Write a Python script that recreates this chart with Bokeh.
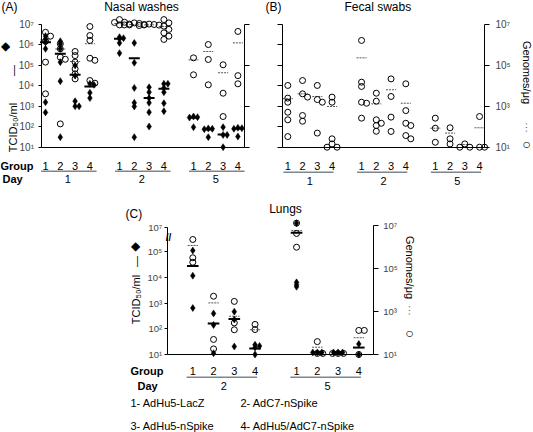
import numpy as np
from bokeh.plotting import figure
from bokeh.models import Range1d, LogAxis, LinearAxis, FixedTicker, Label, BoxAnnotation
from bokeh.layouts import column, row
from bokeh.embed import file_html
from bokeh.resources import INLINE

FONT = "Liberation Sans"

# ---------------- data (log10 values) ----------------
groups = ["1", "2", "3", "4"]
nasal_days = ["1", "2", "5"]
lung_days = ["2", "5"]
legend_entries = ["1-  AdHu5-LacZ", "2-  AdC7-nSpike", "3-  AdHu5-nSpike", "4-  AdHu5/AdC7-nSpike"]
exp_labels = {1: "10\u00b9", 2: "10\u00b2", 3: "10\u00b3", 4: "10\u2074", 5: "10\u2075", 6: "10\u2076", 7: "10\u2077"}

# (A) nasal washes, log10 TCID50/ml (filled diamonds) [day][group]
nasal_titer = [
    [[6.43, 6.28, 6.13, 5.81, 3.2, 2.7], [6.18, 6.06, 5.81, 5.16, 4.23, 1.49],
     [5.0, 4.5, 3.25, 3.0, 3.0], [4.1, 4.05, 3.66, 3.4]],
    [[6.38, 6.33, 6.3, 6.1, 5.6], [6.1, 5.13, 3.9, 3.17, 2.99, 1.49],
     [3.93, 3.69, 3.4, 3.17, 2.71, 2.01], [4.1, 4.1, 3.9, 3.69, 3.15, 2.76]],
    [[2.5, 2.47, 2.45, 1.98], [1.92, 1.9, 1.88, 1.49], [1.98, 1.6, 1.6, 1.0], [1.95, 1.93, 1.9, 1.52]],
]
# (A) nasal washes, log10 genomes/ug (open circles)
nasal_genome = [
    [[6.62, 6.43, 6.18, 5.16, 3.61], [6.06, 5.81, 5.4, 5.3, 2.14],
     [5.68, 5.48, 5.16, 4.83, 4.59, 4.34], [6.9, 6.46, 6.22, 5.35, 5.25, 4.26, 4.13]],
    [[7.24, 7.11, 7.1, 6.98, 6.98], [7.08, 7.05, 7.02, 7.0, 6.98],
     [7.02, 7.0, 6.98, 6.97, 6.95], [7.24, 7.08, 6.92, 6.76, 6.59, 6.43, 6.27]],
    [[5.37, 4.54], [6.02, 5.29, 4.05], [5.03, 3.64, 2.5], [6.66, 4.5, 4.1]],
]
nasal_titer_mean = [[6.13, 5.57, 4.54, 3.97], [6.3, 5.35, 3.4, 3.86], [2.44, 1.87, 1.62, 1.9]]
nasal_genome_mean = [[6.25, 5.8, 5.19, 6.06], [7.05, 7.0, 6.98, 6.9], [5.27, 5.68, 4.64, 6.1]]

# (B) fecal swabs, log10 genomes/ug
fecal_genome = [
    [[4.02, 3.4, 3.2, 2.71, 2.34, 1.52], [4.26, 3.61, 3.45, 2.55, 2.27],
     [4.02, 3.33, 3.2, 1.69], [3.45, 3.2, 1.41, 1.16, 1.0, 1.0]],
    [[6.22, 4.18, 3.97, 3.2, 3.15, 2.42], [3.64, 3.25, 2.34, 2.17, 2.06, 1.78],
     [4.34, 3.48, 2.47, 1.77], [4.1, 2.79, 2.17, 2.06, 1.57, 1.41]],
    [[2.42, 1.93, 1.24], [1.95, 1.41, 1.16], [1.16, 1.0, 1.0], [2.5, 1.0, 1.0]],
]
fecal_genome_mean = [[3.37, 3.61, 3.48, 2.99], [5.37, 3.12, 3.81, 3.15], [1.93, 1.69, 1.13, 1.95]]

# (C) lungs
lung_titer = [
    [[5.11, 4.07, 2.81], [2.6, 2.15, 1.05], [2.67, 2.36, 1.31], [1.38, 1.33, 1.27, 1.0]],
    [[7.4, 3.81, 3.72, 3.64], [1.08, 1.08, 1.08], [1.08, 1.08, 1.08], [1.41, 1.0]],
]
lung_genome = [
    [[6.35, 5.5, 5.29], [3.71, 1.7, 1.26], [3.47, 2.47, 2.15], [2.4, 2.16]],
    [[7.11, 6.63, 5.99], [1.6, 1.05, 1.05], [1.05, 1.05, 1.05], [2.12, 2.12, 1.0]],
]
lung_titer_mean = [[4.45, 2.21, 2.38, 1.23], [6.6, 1.08, 1.08, 1.27]]
lung_genome_mean = [[6.07, 3.4, 2.78, 2.15], [6.77, 1.34, 1.05, 1.78]]

# ---------------- layout helpers ----------------
nasal_pos = [1, 2, 3, 4, 6, 7, 8, 9, 11, 12, 13, 14]
lung_pos = [1, 2, 3, 4, 6, 7, 8, 9]


def dodge(screen_vals, tol, step):
    offs = np.zeros(len(screen_vals))
    placed = []
    pattern = [0, 1, -1, 2, -2, 3, -3]
    for i in np.argsort(-np.asarray(screen_vals), kind="stable"):
        used = {k for (v, k) in placed if abs(v - screen_vals[i]) < tol}
        k = next(k for k in pattern if k not in used)
        offs[i] = k * step
        placed.append((screen_vals[i], k))
    return offs


def collect(values, positions, to_plot, to_px, px_per_x, tol_px, step_px):
    xs, ys, k = [], [], 0
    for day_vals in values:
        for vals in day_vals:
            v = np.asarray(vals, float)
            xs.extend(positions[k] + dodge(to_px(v), tol_px, step_px / px_per_x))
            ys.extend(to_plot(v))
            k += 1
    return xs, ys


def mean_lines(p, means, positions, to_plot, half, dotted):
    flat = [m for day in means for m in day]
    y = to_plot(np.asarray(flat, float))
    x = np.asarray(positions[:len(flat)], float)
    if dotted:
        p.segment(x - half, y, x + half, y, line_color="#555555", line_width=1, line_dash="2 1")
    else:
        p.segment(x - half, y, x + half, y, line_color="black", line_width=2)


class Panel:
    """a figure whose frame fills its canvas; page pixel anchors give the ranges"""

    def __init__(self, left, top, width, height, xa, ya, log):
        self.left, self.top, self.w, self.h = left, top, width, height
        (xpx, xval, xppu), (ypx, yval, yppu) = xa, ya
        self.xa, self.ya = xa, ya
        x0 = xval - (xpx - left) / xppu
        x1 = xval + (left + width - xpx) / xppu
        y1 = yval + (ypx - top) / yppu
        y0 = yval - (top + height - ypx) / yppu
        yr = Range1d(10 ** y0, 10 ** y1) if log else Range1d(y0, y1)
        self.p = figure(width=width, height=height, x_range=Range1d(x0, x1), y_range=yr,
                        y_axis_type="log" if log else "linear", toolbar_location=None,
                        output_backend="svg", min_border=0)
        p = self.p
        p.outline_line_color = None
        p.grid.visible = False
        p.background_fill_color = "white"
        p.border_fill_color = "white"

    def xdata(self, px):
        xpx, xval, xppu = self.xa
        return xval + (px - xpx) / xppu

    def lab(self, text, px=None, py=0, x=None, size="11px", align="left", angle=0.0, bold=False,
            color="black"):
        kw = dict(x=px - self.left, x_units="screen") if x is None else dict(x=x, x_units="data")
        self.p.add_layout(Label(y=self.top + self.h - py, y_units="screen", text=text, text_font=FONT,
                                text_font_size=size, text_align=align, text_baseline="middle",
                                angle=angle, text_color=color,
                                text_font_style="bold" if bold else "normal", **kw))

    def underline(self, x0, x1, py):
        fb = self.top + self.h
        self.p.add_layout(BoxAnnotation(left=x0, right=x1, top=fb - py, bottom=fb - py - 1.5,
                                        top_units="screen", bottom_units="screen",
                                        fill_color="#7d8590", fill_alpha=1, line_color=None))

    def day_labels(self, positions, days, y_grp, y_line, y_day, x_text, lo, hi):
        for i, x in enumerate(positions):
            self.lab(groups[i % 4], py=y_grp, x=x, align="center")
        for d, day in enumerate(days):
            blk = positions[4 * d:4 * d + 4]
            self.underline(blk[0] + lo, blk[-1] + hi, y_line)
            self.lab(day, py=y_day, x=float(np.mean(blk)), align="center")
        if x_text is not None:
            self.lab("Group", px=x_text[0], py=y_grp, bold=True)
            self.lab("Day", px=x_text[1], py=y_day, bold=True)

    def titer_label(self, px, py_text, py_dash, dpx, py_diamond):
        self.lab("TCID\u2085\u2080/ml", px=px, py=py_text, align="center", angle=np.pi / 2)
        self.lab("\u2014", px=px, py=py_dash, align="center", angle=np.pi / 2)
        self.lab("\u25c6", px=dpx, py=py_diamond, size="12px", align="center")

    def genome_label(self, px, py_text, py_dots, py_circle):
        self.lab("Genomes/\u03bcg", px=px, py=py_text, align="center", angle=-np.pi / 2)
        self.lab("\u00b7\u00b7\u00b7", px=px, py=py_dots, align="center", angle=-np.pi / 2, color="#666666")
        self.lab("\u25cb", px=px, py=py_circle, size="14px", align="center")


def style_axis(ax, ticks, labels, tick_out, standoff, bounds, loc, size="10px"):
    ax.ticker = FixedTicker(ticks=ticks, minor_ticks=[])
    ax.major_label_overrides = {t: l for t, l in zip(ticks, labels)}
    ax.major_tick_in = 0
    ax.major_tick_out = tick_out
    ax.minor_tick_line_color = None
    ax.axis_line_color = "black"
    ax.major_tick_line_color = "black"
    ax.major_label_text_font = FONT
    ax.major_label_text_font_size = size
    ax.major_label_standoff = standoff
    ax.bounds = bounds
    ax.fixed_location = loc


def baseline(panel, yloc, xl, xr):
    ax = panel.p.xaxis[0]
    ax.ticker = FixedTicker(ticks=[], minor_ticks=[])
    ax.major_label_text_font_size = "0px"
    ax.major_tick_line_color = None
    ax.minor_tick_line_color = None
    ax.axis_line_color = "black"
    ax.bounds = (xl, xr)
    ax.fixed_location = yloc


DEC = list(range(1, 8))
LOG_TICKS = [10 ** k for k in DEC]
ODD_TICKS = [10 ** k for k in (1, 3, 5, 7)]
pow10 = lambda v: 10 ** v

# ---------------- (A) Nasal washes ----------------
A = Panel(0, 0, 262, 195, (45, 1, 14.8), (24, 7, 20.45), log=True)
pA = A.p
aL, aR = A.xdata(40.5), A.xdata(244)
style_axis(pA.yaxis[0], LOG_TICKS, [exp_labels[k] for k in DEC], 3, 4, (10, 1e7), aL)
rA = LogAxis()
style_axis(rA, ODD_TICKS, [""] * 4, 5, 2, (10, 1e7), aR)
pA.add_layout(rA, "right")
baseline(A, 10, aL, aR)

mean_lines(pA, nasal_genome_mean, nasal_pos, pow10, 0.34, True)
cx, cy = collect(nasal_genome, nasal_pos, pow10, lambda v: v * 20.45, 14.8, 4, 5)
pA.scatter(cx, cy, marker="circle", size=6, fill_color=None, line_color="black", line_width=1)
dx, dy = collect(nasal_titer, nasal_pos, pow10, lambda v: v * 20.45, 14.8, 1.5, 4)
pA.scatter(dx, dy, marker="diamond", size=7, fill_color="black", line_color="black", line_width=0.5)
mean_lines(pA, nasal_titer_mean, nasal_pos, pow10, 0.37, False)

A.lab("(A)", px=1, py=6, size="12px")
A.lab("Nasal washes", px=141, py=6, size="12px", align="center")
A.titer_label(12, 127, 70, 5, 45)
A.day_labels(nasal_pos, nasal_days, 165, 170, 178, (0, 2), -0.3, 0.45)

# ---------------- (B) Fecal swabs ----------------
B = Panel(262, 0, 271, 195, (287.3, 1, 14.75), (24, 7, 20.45), log=True)
pB = B.p
bL, bR = B.xdata(281.7), B.xdata(484)
style_axis(pB.yaxis[0], LOG_TICKS, [""] * 7, 5, 2, (10, 1e7), bL)
rB = LogAxis()
style_axis(rB, ODD_TICKS, [exp_labels[k] for k in (1, 3, 5, 7)], 5, 6, (10, 1e7), bR)
pB.add_layout(rB, "right")
baseline(B, 10, bL, bR)

mean_lines(pB, fecal_genome_mean, nasal_pos, pow10, 0.34, True)
bx, by = collect(fecal_genome, nasal_pos, pow10, lambda v: v * 20.45, 14.75, 4, 5)
pB.scatter(bx, by, marker="circle", size=6, fill_color=None, line_color="black", line_width=1)

B.lab("(B)", px=265, py=6, size="12px")
B.lab("Fecal  swabs", px=379, py=6, size="12px", align="center")
B.genome_label(526, 72, 127, 143)
B.day_labels(nasal_pos, nasal_days, 165, 171, 180, None, -0.3, 0.1)

# ---------------- (C) Lungs ----------------
def left_map(L):
    """broken TCID50 axis (10^5 -> 10^7 compressed) in units of the genome axis"""
    L = np.asarray(L, float)
    return np.where(L <= 5, 1 + (L - 1) * 1.194, 5.776 + (L - 5) * 0.554)


ident = lambda v: v
C = Panel(0, 195, 533, 237, (192.3, 1, 20.75), (225, 7, 21.5), log=False)
pC = C.p
cL, cR = C.xdata(166.7), C.xdata(372.7)
left_exps = [1, 2, 3, 4, 5, 7]
left_ticks = [round(float(left_map(e)), 3) for e in left_exps]
left_ticks = [int(t) if t == int(t) else t for t in left_ticks]
style_axis(pC.yaxis[0], left_ticks, [exp_labels[e] for e in left_exps], 3, 2, (1, left_ticks[-1]), cL,
           size="9.5px")
rC = LinearAxis()
style_axis(rC, [1, 3, 5, 7], [exp_labels[k] for k in (1, 3, 5, 7)], 5, 5, (1, 7), cR, size="9.5px")
pC.add_layout(rC, "right")
baseline(C, 1, cL, cR)

mean_lines(pC, lung_genome_mean, lung_pos, ident, 0.25, True)
lcx, lcy = collect(lung_genome, lung_pos, ident, lambda v: v * 21.5, 20.75, 4, 5.5)
pC.scatter(lcx, lcy, marker="circle", size=6, fill_color=None, line_color="black", line_width=1)
ldx, ldy = collect(lung_titer, lung_pos, left_map, lambda v: left_map(v) * 21.5, 20.75, 1.5, 4.5)
pC.scatter(ldx, ldy, marker="diamond", size=7, fill_color="black", line_color="black", line_width=0.5)
mean_lines(pC, lung_titer_mean, lung_pos, left_map, 0.28, False)

C.lab("//", px=168, py=237, size="10px", align="center", bold=True)
C.lab("(C)", px=125, py=213, size="12px")
C.lab("Lungs", px=285, py=208, size="12px", align="center")
C.titer_label(135, 299, 261, 135, 245)
C.genome_label(409, 267, 310, 332)
C.day_labels(lung_pos, lung_days, 370, 376, 385, (130, 137), -0.3, 0.1)
for i, txt in enumerate(legend_entries):
    C.lab(txt, px=130 if i % 2 == 0 else 240, py=402 if i < 2 else 425)

layout = column(row(pA, pB), pC)
open("out.html", "w").write(file_html(layout, INLINE))
